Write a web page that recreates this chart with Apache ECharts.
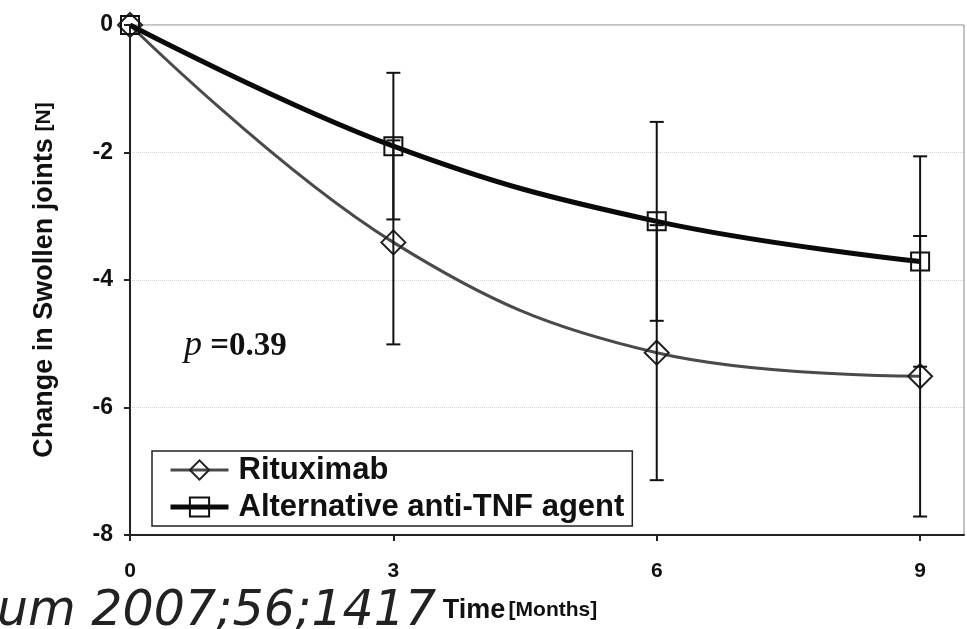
<!DOCTYPE html>
<html>
<head>
<meta charset="utf-8">
<script src="https://cdn.jsdelivr.net/npm/echarts@6/dist/echarts.min.js"></script>
<style>
  html, body { margin: 0; padding: 0; background: #fff; overflow: hidden; }
  #chart { width: 967px; height: 629px; }
</style>
</head>
<body>
<div id="chart"></div>
<script>
// Follow-up time points (months)
const months = [0, 3, 6, 9];
const xTicks = [0, 3, 6, 9];
const yTicks = [0, -2, -4, -6, -8];

// Mean change in swollen joint count and its error (±)
const rituximabMean = [0, -3.41, -5.14, -5.51];
const rituximabErr = [0, 1.60, 2.00, 2.20];
const antiTnfMean = [0, -1.90, -3.08, -3.71];
const antiTnfErr = [0, 1.15, 1.56, 1.65];

const pValueText = '0.39';
const citation = 'um 2007;56;1417';

const pairs = (xs, ys) => xs.map((x, i) => [x, ys[i]]);
const errRows = (xs, ys, es) => xs.map((x, i) => [x, ys[i], es[i]]);

// Vertical error bar with short caps at both ends
function errorBar(params, api) {
  const x = api.value(0), y = api.value(1), e = api.value(2);
  if (!e) return null;
  const top = api.coord([x, y + e]);
  const bot = api.coord([x, y - e]);
  const cap = 7;
  const style = { stroke: '#111', lineWidth: 2 };
  return {
    type: 'group',
    children: [
      { type: 'line', shape: { x1: top[0], y1: top[1], x2: bot[0], y2: bot[1] }, style },
      { type: 'line', shape: { x1: top[0] - cap, y1: top[1], x2: top[0] + cap, y2: top[1] }, style },
      { type: 'line', shape: { x1: bot[0] - cap, y1: bot[1], x2: bot[0] + cap, y2: bot[1] }, style }
    ]
  };
}

const chart = echarts.init(document.getElementById('chart'));
const labelFont = 'Liberation Sans, Arial, sans-serif';

chart.setOption({
  animation: false,
  backgroundColor: '#fff',
  grid: { left: 130, right: 3, top: 25, bottom: 93, show: true, borderColor: '#888', borderWidth: 1 },
  xAxis: {
    type: 'value', min: 0, max: 9.5,
    axisLine: { onZero: false, lineStyle: { color: '#222', width: 2 } },
    axisTick: { customValues: xTicks, length: 6, lineStyle: { color: '#222', width: 2 } },
    axisLabel: { customValues: xTicks, margin: 26, fontFamily: labelFont, fontWeight: 'bold', fontSize: 21, color: '#111' },
    splitLine: { show: false },
    name: '{a|Time} {b|[Months]}',
    nameLocation: 'middle',
    nameGap: 62,
    nameTextStyle: {
      padding: [0, 54, 0, 0],
      rich: {
        a: { fontFamily: labelFont, fontWeight: 'bold', fontSize: 27, color: '#111' },
        b: { fontFamily: labelFont, fontWeight: 'bold', fontSize: 21, color: '#111' }
      }
    }
  },
  yAxis: {
    type: 'value', min: -8, max: 0, interval: 2,
    axisLine: { onZero: false, lineStyle: { color: '#222', width: 2 } },
    axisTick: { length: 6, lineStyle: { color: '#222', width: 2 } },
    axisLabel: { customValues: yTicks, margin: 17, fontFamily: labelFont, fontWeight: 'bold', fontSize: 23, color: '#111' },
    splitLine: { lineStyle: { color: '#d8d8d8', type: 'dotted', width: 1 } },
    name: '{a|Change in Swollen joints}  {b|[N]}',
    nameLocation: 'middle',
    nameGap: 72,
    nameTextStyle: {
      rich: {
        a: { fontFamily: labelFont, fontWeight: 'bold', fontSize: 27, color: '#111' },
        b: { fontFamily: labelFont, fontWeight: 'bold', fontSize: 21, color: '#111' }
      }
    }
  },
  legend: {
    orient: 'vertical',
    left: 152, top: 451,
    padding: [3, 8, 3, 16],
    itemGap: 5,
    itemWidth: 58, itemHeight: 24,
    backgroundColor: '#fff',
    borderColor: '#222', borderWidth: 1.5, borderRadius: 0,
    textStyle: { fontFamily: labelFont, fontWeight: 'bold', fontSize: 31, lineHeight: 32, color: '#111', padding: [0, 0, 0, 5] },
    data: [
      { name: 'Rituximab', lineStyle: { width: 3, color: '#4a4a4a' } },
      { name: 'Alternative anti-TNF agent', lineStyle: { width: 5, color: '#0a0a0a' } }
    ]
  },
  series: [
    {
      name: 'Rituximab', type: 'line', smooth: 0.4,
      data: pairs(months, rituximabMean),
      symbol: 'diamond', symbolSize: 24,
      lineStyle: { color: '#4a4a4a', width: 3 },
      itemStyle: { color: 'transparent', borderColor: '#222', borderWidth: 2 },
      z: 3
    },
    {
      name: 'Alternative anti-TNF agent', type: 'line', smooth: 0.4,
      data: pairs(months, antiTnfMean),
      symbol: 'rect', symbolSize: 18,
      lineStyle: { color: '#0a0a0a', width: 5 },
      itemStyle: { color: 'transparent', borderColor: '#111', borderWidth: 2 },
      z: 4
    },
    {
      type: 'custom', name: 'rituximab-err', renderItem: errorBar,
      data: errRows(months, rituximabMean, rituximabErr),
      encode: { x: 0, y: 1 }, z: 5, silent: true
    },
    {
      type: 'custom', name: 'antitnf-err', renderItem: errorBar,
      data: errRows(months, antiTnfMean, antiTnfErr),
      encode: { x: 0, y: 1 }, z: 5, silent: true
    }
  ],
  graphic: [
    {
      type: 'text', left: 184, top: 328,
      style: {
        text: '{p|p}{v| =' + pValueText + '}',
        rich: {
          p: { fontFamily: 'Liberation Serif, Times New Roman, serif', fontStyle: 'italic', fontSize: 36, fill: '#111' },
          v: { fontFamily: 'Liberation Serif, Times New Roman, serif', fontWeight: 'bold', fontSize: 33, fill: '#111' }
        }
      }
    },
    {
      type: 'text', left: -3, top: 588,
      style: { text: citation, fontFamily: 'DejaVu Sans', fontStyle: 'italic', fontSize: 49, fill: '#222' }
    }
  ]
});
</script>
</body>
</html>
